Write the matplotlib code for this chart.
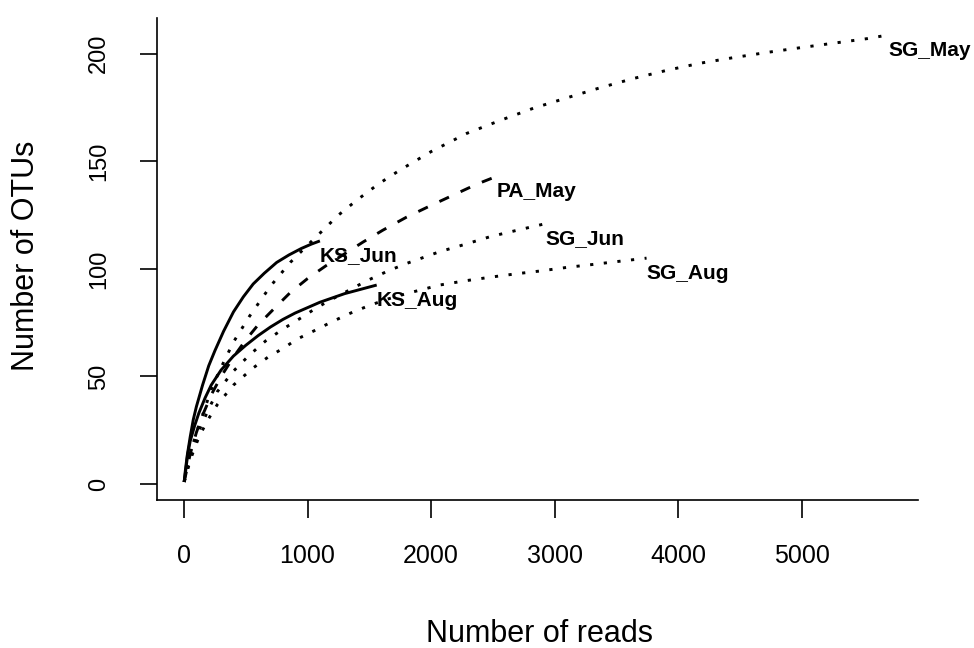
import matplotlib
matplotlib.use("Agg")
from matplotlib import pyplot as plt

plt.rcParams['font.family'] = ['Liberation Sans', 'DejaVu Sans']

# rarefaction curves (reads, OTUs)
ks_jun_x = [1, 10, 25, 50, 75, 100, 150, 200, 250, 320, 400, 480, 560, 650, 750, 850, 950, 1030, 1100]
ks_jun_y = [1, 6, 13, 22, 30, 36, 46, 55, 62, 71, 80, 87, 93, 98, 103, 106.5, 109.5, 111.5, 113]

ks_aug_x = [1, 15, 30, 50, 85, 120, 170, 220, 300, 400, 500, 600, 700, 800, 900, 1000,
            1100, 1200, 1300, 1430, 1560]
ks_aug_y = [1, 7, 14, 20, 27, 33, 40, 46, 53, 59.5, 64.5, 69, 73, 76.5, 79.5, 82,
            84.5, 86.5, 88.5, 90.5, 92.5]

pa_may_x = [1, 50, 100, 150, 225, 300, 400, 500, 600, 720, 860, 1000, 1150, 1300, 1450,
            1610, 1800, 2000, 2150, 2300, 2420, 2530]
pa_may_y = [1, 14, 24, 32, 42, 50, 59, 67, 74, 81, 89, 95.5, 101.5, 107, 112.5,
            118, 124, 129.5, 133.5, 137.5, 140.5, 143]

sg_may_x = [1, 50, 100, 150, 220, 290, 400, 530, 700, 860, 1000, 1125, 1250, 1400, 1575,
            1750, 2000, 2290, 2560, 2830, 3100, 3370, 3640, 3910, 4180, 4450, 4720, 4990,
            5260, 5530, 5700]
sg_may_y = [1, 14, 24, 32, 44, 53, 66, 78, 92, 103, 111, 118, 125, 132, 139.5,
            146, 154.5, 163, 169, 174.7, 179.5, 184.2, 188.5, 192.3, 195.6, 198.2, 200.6, 202.8,
            204.9, 207, 208.7]

sg_jun_x = [1, 50, 90, 130, 200, 270, 400, 530, 660, 800, 940, 1075, 1200, 1300, 1480,
            1650, 1800, 2070, 2280, 2480, 2700, 2925]
sg_jun_y = [1, 12, 19, 26, 35, 43, 52.5, 60, 66.5, 72, 77, 82, 86, 89, 94.5,
            99, 102.5, 108, 111.5, 115, 118, 121]

sg_aug_x = [1, 50, 90, 130, 200, 270, 400, 560, 680, 800, 920, 1045, 1200, 1350, 1500,
            1650, 1800, 2070, 2280, 2500, 2700, 2880, 3100, 3300, 3520, 3745]
sg_aug_y = [1, 11, 17.5, 23, 30.5, 37, 46, 54, 59, 63, 67.5, 71, 75.5, 79.5, 83,
            86, 88.5, 92.5, 94.5, 96.3, 97.8, 99, 100.7, 102, 103.5, 105]

names = ["KS_Jun", "KS_Aug", "PA_May", "SG_May", "SG_Jun", "SG_Aug"]
xs = [ks_jun_x, ks_aug_x, pa_may_x, sg_may_x, sg_jun_x, sg_aug_x]
ys = [ks_jun_y, ks_aug_y, pa_may_y, sg_may_y, sg_jun_y, sg_aug_y]
styles = ["solid", "solid", "dashed", "dotted", "dotted", "dotted"]

x_ticks = [0, 1000, 2000, 3000, 4000, 5000]
y_ticks = [0, 50, 100, 150, 200]

fig = plt.figure(figsize=(9.74, 6.48), dpi=100)
ax = fig.add_axes([157 / 974, 1 - 500 / 648, 761 / 974, 482 / 648])

for name, x, y, st in zip(names, xs, ys, styles):
    line, = ax.plot(x, y, color="black", lw=2.1, solid_capstyle="butt",
                    dash_capstyle="butt", solid_joinstyle="round")
    if st == "dashed":
        line.set_dashes((3.6, 4.4))
    elif st == "dotted":
        line.set_dashes((1.1, 3.6))
    ax.annotate(name, (x[-1], y[-1]), xytext=(0, -4), textcoords="offset points",
                ha="left", va="top", fontsize=15, fontweight="bold")

ax.set_xlim(-219, 5943)
ax.set_ylim(-7.4, 216.6)

ax.spines["top"].set_visible(False)
ax.spines["right"].set_visible(False)
ax.spines["left"].set_linewidth(1.2)
ax.spines["bottom"].set_linewidth(1.2)

ax.set_xticks(x_ticks)
ax.set_yticks(y_ticks)
ax.tick_params(axis="x", length=13, width=1.2, pad=19, labelsize=18)
ax.tick_params(axis="y", length=12, width=1.2, pad=22, labelsize=17, labelrotation=90)
for lab in ax.get_yticklabels():
    lab.set_va("center")

fig.text(540 / 974, 1 - 634 / 648, "Number of reads", ha="center", va="center", fontsize=22)
fig.text(26 / 974, 1 - 256 / 648, "Number of OTUs", ha="center", va="center", fontsize=22, rotation=90)

plt.savefig("out.png", dpi=100)
